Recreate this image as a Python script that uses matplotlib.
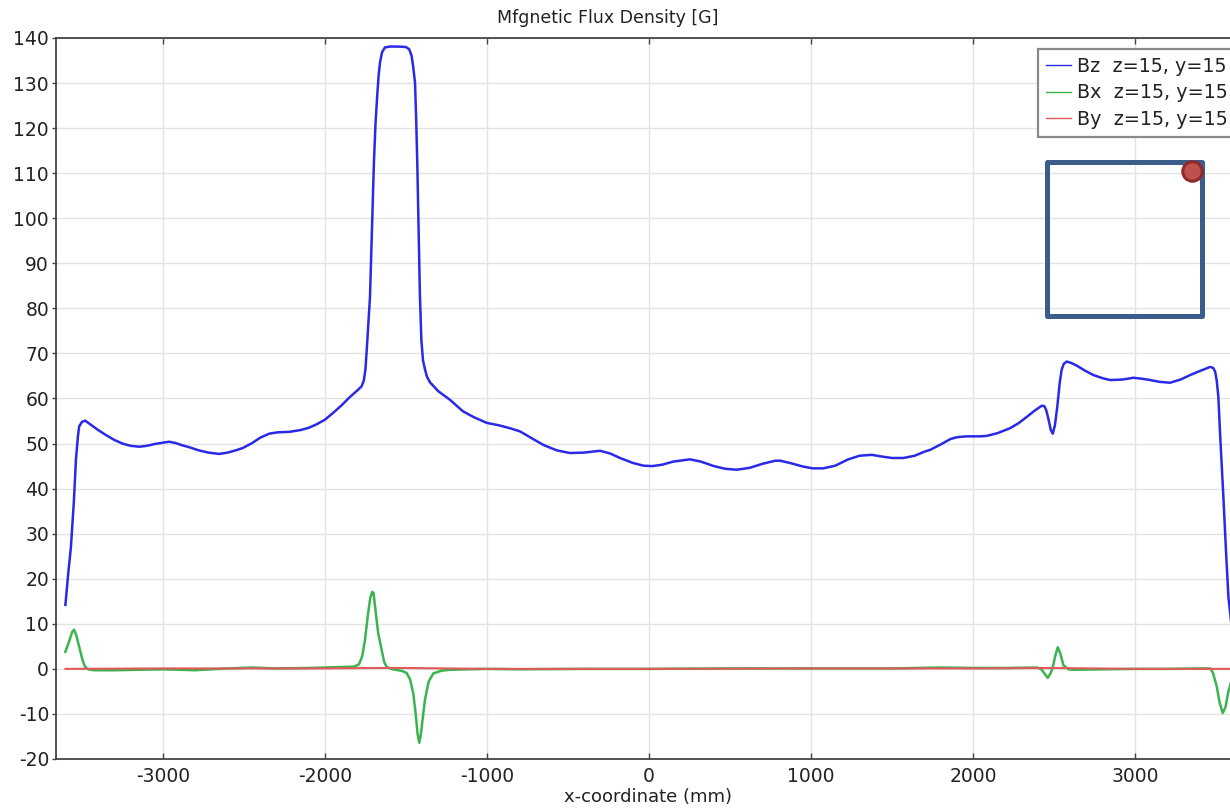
import matplotlib
matplotlib.use("Agg")
import matplotlib.pyplot as plt
from matplotlib.patches import Rectangle

plt.rcParams["axes.unicode_minus"] = False

# Bz along x (mm, Gauss)
bz_x = [-3602, -3585, -3568, -3550, -3537, -3525, -3517, -3500, -3480, -3450, -3400, -3352,
        -3300, -3250, -3200, -3146, -3100, -3050, -3000, -2961, -2920, -2880, -2838, -2780,
        -2720, -2652, -2600, -2550, -2508, -2450, -2400, -2344, -2290, -2220, -2150, -2100,
        -2050, -2000, -1950, -1900, -1850, -1800, -1774, -1760, -1750, -1740, -1730, -1722,
        -1710, -1698, -1688, -1677, -1668, -1660, -1648, -1630, -1600, -1550, -1500, -1480,
        -1465, -1455, -1444, -1437, -1430, -1422, -1414, -1405, -1395, -1383, -1370, -1352,
        -1300, -1228, -1150, -1084, -1002, -920, -858, -796, -720, -652, -570, -488, -400,
        -302, -240, -179, -100, -35, 20, 80, 150, 253, 320, 400, 470, 541, 620, 700, 780,
        809, 880, 950, 1010, 1076, 1150, 1230, 1300, 1375, 1440, 1500, 1570, 1640, 1700,
        1735, 1800, 1860, 1899, 1960, 2043, 2084, 2150, 2228, 2280, 2331, 2380, 2424, 2440,
        2451, 2465, 2480, 2492, 2505, 2520, 2535, 2547, 2560, 2578, 2605, 2640, 2690, 2743,
        2800, 2846, 2920, 2990, 3040, 3093, 3150, 3216, 3280, 3340, 3400, 3463, 3482, 3494,
        3504, 3514, 3525, 3545, 3560, 3576, 3600]
bz_val = [14.2, 21, 27, 37, 46.4, 51.5, 53.8, 54.8, 55.1, 54.3, 53.0, 51.9,
          50.8, 50.0, 49.5, 49.3, 49.5, 49.9, 50.2, 50.4, 50.1, 49.6, 49.2, 48.5,
          48.0, 47.7, 48.0, 48.5, 49.0, 50.1, 51.3, 52.2, 52.5, 52.6, 53.0, 53.5,
          54.3, 55.3, 56.8, 58.4, 60.2, 61.8, 62.7, 64.0, 66.5, 72, 78, 82.6,
          97, 112.2, 121, 127.5, 132, 134.6, 136.8, 137.9, 138.1, 138.1, 138.0, 137.5,
          136.0, 133.5, 130, 122, 112, 97, 83, 73, 68.5, 66.5, 64.8, 63.6,
          61.6, 59.7, 57.2, 55.9, 54.6, 54.0, 53.4, 52.7, 51.1, 49.7, 48.5, 47.9, 48.0,
          48.4, 47.8, 46.8, 45.7, 45.1, 45.0, 45.3, 46.0, 46.5, 46.0, 45.0, 44.4, 44.2, 44.6, 45.5, 46.2,
          46.2, 45.6, 44.9, 44.5, 44.5, 45.1, 46.5, 47.3, 47.5, 47.1, 46.8, 46.8, 47.3, 48.2,
          48.6, 49.8, 51.0, 51.4, 51.6, 51.6, 51.7, 52.3, 53.4, 54.5, 55.9, 57.3, 58.4, 58.3,
          57.5, 55.5, 53.0, 52.2, 54.0, 58.2, 63.5, 66.4, 67.7, 68.2, 67.9, 67.3, 66.2, 65.2,
          64.5, 64.1, 64.2, 64.6, 64.4, 64.1, 63.7, 63.5, 64.2, 65.2, 66.1, 67.0, 66.8, 66.0,
          64.0, 60.4, 52, 38.2, 27, 16.0, 8]

# Bx along x
bx_x = [-3602, -3580, -3560, -3549, -3535, -3512, -3495, -3481, -3460, -3430, -3300, -3000,
        -2800, -2600, -2450, -2300, -2100, -1900, -1820, -1790, -1770, -1753, -1735, -1720,
        -1708, -1700, -1688, -1672, -1650, -1635, -1619, -1580, -1520, -1496, -1475, -1455,
        -1440, -1428, -1418, -1408, -1395, -1383, -1360, -1331, -1280, -1228, -1000, -800,
        -400, 0, 500, 800, 1200, 1500, 1800, 2000, 2200, 2393, 2420, 2440, 2461, 2478, 2492,
        2508, 2523, 2538, 2558, 2590, 2620, 2800, 3000, 3200, 3400, 3463, 3480, 3504, 3522,
        3541, 3558, 3576, 3600]
bx_val = [3.8, 6.0, 8.2, 8.7, 7.5, 4.2, 1.8, 0.5, -0.1, -0.3, -0.3, -0.1,
          -0.3, 0.1, 0.3, 0.1, 0.2, 0.4, 0.5, 1.0, 2.8, 6.4, 12, 15.8,
          17.1, 16.8, 13, 8, 4.2, 1.6, 0.4, -0.1, -0.5, -0.9, -2.3, -5.4,
          -10, -14.5, -16.4, -14.5, -10.5, -6.9, -2.8, -1.0, -0.4, -0.2, 0.0, -0.1,
          0.0, 0.0, 0.1, 0.1, 0.1, 0.1, 0.3, 0.2, 0.2, 0.3, 0.0, -1.0, -2.0, -1.0, 0.3,
          3.0, 4.8, 3.5, 0.8, -0.1, -0.2, -0.1, 0.0, 0.0, 0.1, 0.1, -0.8, -3.9, -7.5,
          -9.8, -8.5, -5.0, -2.0]

# By along x
by_x = [-3602, -3000, -2000, -1700, -1500, -1000, 0, 1000, 2000, 2500, 3000, 3600]
by_val = [0.0, 0.1, 0.1, 0.2, 0.2, 0.0, 0.0, 0.1, 0.1, 0.2, 0.0, 0.0]

series_labels = ["Bz  z=15, y=15", "Bx  z=15, y=15", "By  z=15, y=15"]
x_ticks = [-3000, -2000, -1000, 0, 1000, 2000, 3000]
y_ticks = list(range(-20, 141, 10))

# Highlighted cross-section outline and probe point (data coordinates)
box_x0, box_x1, box_y0, box_y1 = 2457, 3414, 78.3, 112.5
probe_x, probe_y = 3352, 110.5

W, H = 1230, 808
fig = plt.figure(figsize=(W / 100, H / 100), dpi=100)
ax = fig.add_axes([56 / W, (H - 759) / H, (1242 - 56) / W, (759 - 38) / H])

text_color = "#222222"
ax.plot(bz_x, bz_val, color="#2a2ae6", lw=1.8, label=series_labels[0], zorder=3)
ax.plot(bx_x, bx_val, color="#3cb44e", lw=1.8, label=series_labels[1], zorder=4)
ax.plot(by_x, by_val, color="#e05a5a", lw=1.5, label=series_labels[2], zorder=5)

ax.set_xlim(-3660, 3660)
ax.set_ylim(-20, 140)
ax.set_xticks(x_ticks)
ax.set_yticks(y_ticks)
ax.grid(True, color="#e3e3e3", lw=1.0)
ax.set_axisbelow(True)

for side in ("top", "bottom", "left"):
    ax.spines[side].set_color("#444444")
    ax.spines[side].set_linewidth(1.3)
ax.spines["right"].set_visible(False)

ax.tick_params(axis="y", direction="out", length=3, width=1, pad=2,
               labelsize=13.5, labelcolor=text_color, color="#444444")
ax.tick_params(axis="x", direction="in", length=4, width=1, pad=6,
               labelsize=13.5, labelcolor=text_color, color="#444444", top=True)

rect = Rectangle((box_x0, box_y0), box_x1 - box_x0, box_y1 - box_y0,
                 fill=False, edgecolor="#3a5d8c", lw=3.6, joinstyle="round", zorder=6)
ax.add_patch(rect)
ax.plot([probe_x], [probe_y], marker="o", markersize=14, markerfacecolor="#c0504d",
        markeredgecolor="#8e2a2a", markeredgewidth=2.2, zorder=7)

leg = ax.legend(loc="upper left", bbox_to_anchor=(1038 / W, 1 - 49 / H),
                bbox_transform=fig.transFigure, fontsize=13.8, frameon=True,
                fancybox=False, borderaxespad=0, handlelength=1.3, handletextpad=0.3,
                labelspacing=0.38, borderpad=0.42, shadow=False)
leg.get_frame().set_edgecolor("#8a8a8a")
leg.get_frame().set_linewidth(1.6)
leg.get_frame().set_alpha(1)
for line in leg.get_lines():
    line.set_linewidth(1.0)
for t in leg.get_texts():
    t.set_color(text_color)

fig.text(608 / W, 1 - 18 / H, "Mfgnetic Flux Density [G]", ha="center", va="center",
         fontsize=12.5, color=text_color)
fig.text(648 / W, 1 - 797 / H, "x-coordinate (mm)", ha="center", va="center",
         fontsize=13, color=text_color)

fig.savefig("out.png", dpi=100)
